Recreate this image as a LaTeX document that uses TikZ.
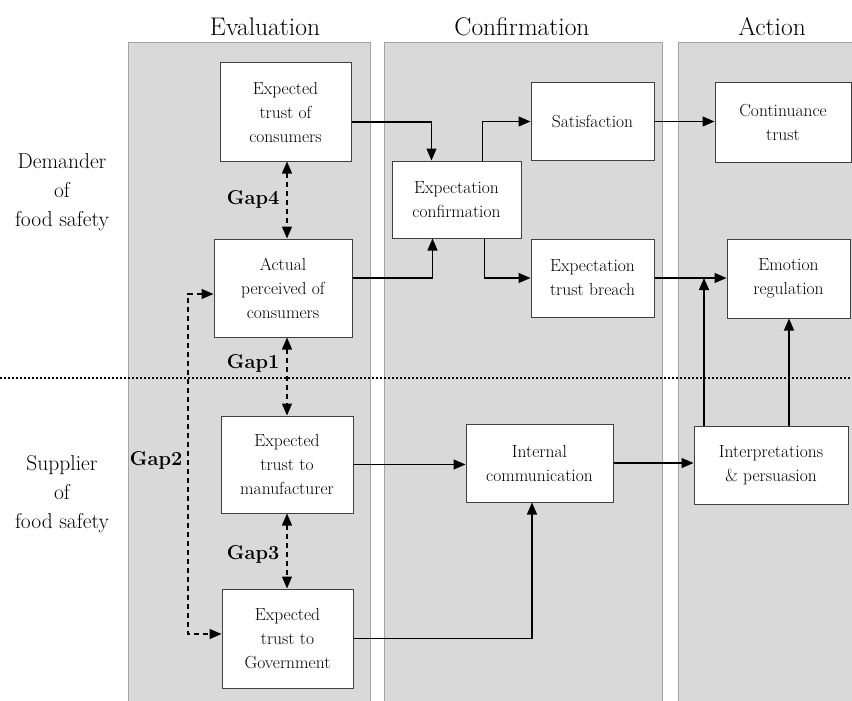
\documentclass[tikz,border=0pt]{standalone}
\usetikzlibrary{arrows.meta,positioning}
\definecolor{panelgray}{HTML}{D9D9D9}
\definecolor{paneledge}{HTML}{A3A3A3}
\tikzset{
	box/.style={draw=black!75, line width=1pt, fill=white, align=center, inner sep=0pt,
		font=\fontsize{17.5}{24}\selectfont},
	panel/.style={draw=paneledge, line width=1pt, fill=panelgray},
	arr/.style={line width=1.3pt, -{Triangle[length=12pt,width=10pt]}},
	gaparr/.style={line width=1.3pt, dash pattern=on 5pt off 4pt,
		{Triangle[length=12pt,width=10pt]}-{Triangle[length=12pt,width=10pt]}},
	gaplbl/.style={font=\bfseries\fontsize{20}{24}\selectfont, inner sep=0pt},
	title/.style={font=\fontsize{25.5}{30}\selectfont},
	side/.style={align=center, font=\fontsize{21.5}{29}\selectfont}
}
\begin{document}
\begin{tikzpicture}[x=1pt,y=-1pt]
	\useasboundingbox (0,0) rectangle (852,701);
	% stages
	\draw [panel] (128,43) rectangle (370,720);
	\draw [panel] (384,43) rectangle (662,720);
	\draw [panel] (678,43) rectangle (870,720);
	\node [title] (tev) at (265,27) {Evaluation};
	\node [title] (tco) at (522,27) {Confirmation};
	\node [title] (tac) at (772,27) {Action};
	\node [side] (dem) at (62,192) {Demander\\of\\food safety};
	\node [side] (sup) at (62,494) {Supplier\\of\\food safety};
	\draw [line width=1.6pt, dash pattern=on 2pt off 2pt] (0,378) -- (852,378);
	
	\node [box, minimum width=131pt, minimum height=98pt] (etc) at (285.5,112) {Expected\\trust of\\consumers};
	\node [box, minimum width=138pt, minimum height=98pt] (apc) at (283,288) {Actual\\perceived of\\consumers};
	\node [box, minimum width=132pt, minimum height=97pt] (etm) at (287,464.5) {Expected\\trust to\\manufacturer};
	\node [box, minimum width=131pt, minimum height=99pt] (etg) at (287.5,638.5) {Expected\\trust to\\Government};
	\node [box, minimum width=129pt, minimum height=77pt] (ec) at (456.5,199.5) {Expectation\\confirmation};
	\node [box, minimum width=123pt, minimum height=77pt] (sat) at (592.5,121.5) {Satisfaction};
	\node [box, minimum width=123pt, minimum height=78pt] (etb) at (592.5,278) {Expectation\\trust breach};
	\node [box, minimum width=136pt, minimum height=79pt] (ct) at (783,122.5) {Continuance\\trust};
	\node [box, minimum width=123pt, minimum height=79pt] (er) at (788.5,278.5) {Emotion\\regulation};
	\node [box, minimum width=147pt, minimum height=78pt] (ic) at (539.5,463) {Internal\\communication};
	\node [box, minimum width=154pt, minimum height=78pt] (ip) at (771,465) {Interpretations\\\&~persuasion};
	
	\draw [arr] ([yshift=-10pt]etc.east) -| ([xshift=-25pt]ec.north);
	\draw [arr] ([yshift=10pt]apc.east) -| ([xshift=-24pt]ec.south);
	\draw [arr] ([xshift=26pt]ec.north) |- (sat.west);
	\draw [arr] ([xshift=28pt]ec.south) |- (etb.west);
	\draw [arr] (sat.east) -- (sat.east -| ct.west);
	\draw [arr] (etb.east) -- (etb.east -| er.west);
	\coordinate (ipl) at ([xshift=-67pt]ip.north);
	\coordinate (ipr) at ([xshift=18pt]ip.north);
	\draw [arr] (ipl) -- (ipl |- etb.east);
	\draw [arr] (ipr) -- (ipr |- er.south);
	\draw [arr] (etm.east) -- (etm.east -| ic.west);
	\draw [arr] (ic.east) -- (ic.east -| ip.west);
	\draw [arr] (etg.east) -| ([xshift=-7.5pt]ic.south);
	
	% gaps
	\draw [gaparr] (etm.center |- etc.south) -- node [gaplbl, left=7pt, pos=0.49] {Gap4} (etm.center |- apc.north);
	\draw [gaparr] (etm.center |- apc.south) -- node [gaplbl, left=7pt, pos=0.33] {Gap1} (etm.north);
	\draw [gaparr] (etm.south) -- node [gaplbl, left=7pt, pos=0.55] {Gap3} (etm.center |- etg.north);
	\coordinate (g2) at (188,460);
	\draw [gaparr] ([yshift=-6pt]apc.west) -| (g2) node [gaplbl, left=5pt] {Gap2} |- ([yshift=4.5pt]etg.west);
\end{tikzpicture}
\end{document}
